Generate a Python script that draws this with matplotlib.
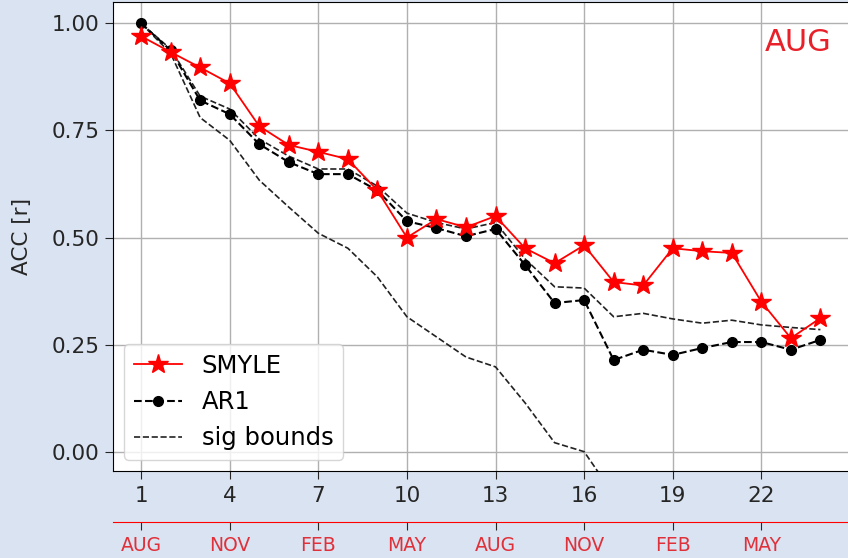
import matplotlib.pyplot as plt

# lead months and init-month labels
leads = list(range(1, 25))
tick_pos = [1, 4, 7, 10, 13, 16, 19, 22]
month_labels = ['AUG', 'NOV', 'FEB', 'MAY', 'AUG', 'NOV', 'FEB', 'MAY']

# ACC values
smyle = [0.97, 0.933, 0.897, 0.86, 0.76, 0.716, 0.70, 0.683, 0.61, 0.50,
         0.543, 0.524, 0.55, 0.475, 0.44, 0.482, 0.396, 0.388, 0.475, 0.468,
         0.464, 0.35, 0.265, 0.312]
ar1 = [1.00, 0.937, 0.82, 0.788, 0.718, 0.676, 0.648, 0.648, 0.61, 0.538,
       0.522, 0.503, 0.52, 0.436, 0.347, 0.354, 0.214, 0.238, 0.226, 0.242,
       0.256, 0.256, 0.238, 0.261]
sig_upper = [1.00, 0.94, 0.83, 0.80, 0.73, 0.69, 0.66, 0.66, 0.62, 0.557,
             0.535, 0.52, 0.535, 0.45, 0.385, 0.382, 0.315, 0.323, 0.31, 0.30,
             0.307, 0.296, 0.29, 0.285]
sig_lower = [1.00, 0.93, 0.78, 0.727, 0.634, 0.571, 0.51, 0.475, 0.408, 0.315,
             0.268, 0.221, 0.198, 0.114, 0.021, 0.0, -0.10]

red = '#ff0000'
txt = '#262626'

fig = plt.figure(figsize=(8.48, 5.58), dpi=100, facecolor='#dae3f1')
ax = fig.add_axes([0.1333, 0.156, 0.869, 0.8405])

ax.plot(leads, smyle, '-*', color=red, markersize=15, lw=1.3, label='SMYLE', zorder=4)
ax.plot(leads, ar1, '--o', color='black', markersize=7, lw=1.5, label='AR1', zorder=3)
ax.plot(leads, sig_upper, '--', color='#222222', lw=1.2, label='sig bounds')
ax.plot(leads[:len(sig_lower)], sig_lower, '--', color='#222222', lw=1.2)

ax.set_xlim(0.05, 25)
ax.set_ylim(-0.045, 1.05)
ax.set_xticks(tick_pos)
ax.set_yticks([0, 0.25, 0.5, 0.75, 1.0])
ax.grid(True, color='#b0b0b0', lw=1)
ax.tick_params(labelsize=15.5, colors=txt, length=6)
ax.tick_params(axis='x', pad=5)
ax.set_ylabel('ACC [r]', fontsize=15.5, color=txt, labelpad=14)
ax.text(0.9756, 0.945, 'AUG', transform=ax.transAxes, ha='right', va='top',
        fontsize=22, color='#e8202a')
ax.legend(loc='lower left', fontsize=17.5, handlelength=2, borderaxespad=0.45,
          framealpha=0.8)

# second x axis with init months
ax2 = ax.twiny()
ax2.set_xlim(ax.get_xlim())
ax2.xaxis.set_ticks_position('bottom')
ax2.xaxis.set_label_position('bottom')
ax2.spines['bottom'].set_position(('outward', 37))
for s in ['top', 'left', 'right']:
    ax2.spines[s].set_visible(False)
ax2.spines['bottom'].set_color(red)
ax2.set_xticks(tick_pos)
ax2.set_xticklabels(month_labels)
ax2.tick_params(axis='x', labelsize=13.5, labelcolor='#e0303a', length=6, color=txt)

fig.savefig('out.png', dpi=100, facecolor=fig.get_facecolor())
